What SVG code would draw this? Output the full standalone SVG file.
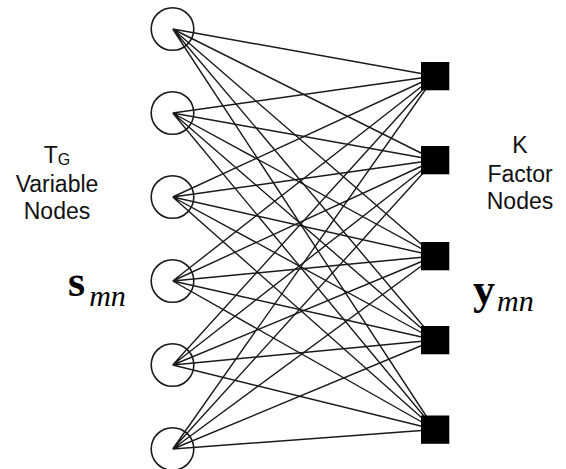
<svg xmlns="http://www.w3.org/2000/svg" width="566" height="469" viewBox="0 0 566 469">
<style>
.e{stroke:#1a1a1a;stroke-width:1.4;fill:none}
.v{stroke:#1a1a1a;stroke-width:1.6;fill:none}
.f{fill:#000}
.lab{font-family:"Liberation Sans",Arial,sans-serif;font-size:23px;fill:#111;text-anchor:middle}
.m{font-family:"Liberation Serif","Times New Roman",serif;fill:#000}
</style>
<rect width="566" height="469" fill="#fff"/>
<g id="connectors">
<path class="e" d="M172.7 29L435 76M172.7 29L435 160M172.7 29L435 256M172.7 29L435 340M172.7 29L435 429.5"/>
<path class="e" d="M172.7 113L435 76M172.7 113L435 160M172.7 113L435 256M172.7 113L435 340M172.7 113L435 429.5"/>
<path class="e" d="M172.7 197L435 76M172.7 197L435 160M172.7 197L435 256M172.7 197L435 340M172.7 197L435 429.5"/>
<path class="e" d="M172.7 281L435 76M172.7 281L435 160M172.7 281L435 256M172.7 281L435 340M172.7 281L435 429.5"/>
<path class="e" d="M172.7 365L435 76M172.7 365L435 160M172.7 365L435 256M172.7 365L435 340M172.7 365L435 429.5"/>
<path class="e" d="M172.7 449L435 76M172.7 449L435 160M172.7 449L435 256M172.7 449L435 340M172.7 449L435 429.5"/>
</g>
<g id="v1"><circle class="v" cx="172.5" cy="29" r="21.3"/></g>
<g id="v2"><circle class="v" cx="172.5" cy="113" r="21.3"/></g>
<g id="v3"><circle class="v" cx="172.5" cy="197" r="21.3"/></g>
<g id="v4"><circle class="v" cx="172.5" cy="281" r="21.3"/></g>
<g id="v5"><circle class="v" cx="172.5" cy="365" r="21.3"/></g>
<g id="v6"><circle class="v" cx="172.5" cy="449" r="21.3"/></g>
<g id="f1"><rect class="f" x="421" y="62" width="28.3" height="28.3"/></g>
<g id="f2"><rect class="f" x="421" y="146" width="28.3" height="28.3"/></g>
<g id="f3"><rect class="f" x="421" y="242" width="28.3" height="28.3"/></g>
<g id="f4"><rect class="f" x="421" y="326" width="28.3" height="28.3"/></g>
<g id="f5"><rect class="f" x="421" y="415.5" width="28.3" height="28.3"/></g>
<g id="left-label">
<text class="lab" x="57" y="163">T<tspan font-size="16" dy="2">G</tspan></text>
<text class="lab" x="57" y="191.5">Variable</text>
<text class="lab" x="57" y="219">Nodes</text>
</g>
<g id="right-label">
<text class="lab" x="520" y="153">K</text>
<text class="lab" x="520" y="181.5">Factor</text>
<text class="lab" x="520" y="209">Nodes</text>
</g>
<text class="m" x="68" y="296" font-size="44" font-weight="bold">s<tspan font-size="30" font-weight="normal" font-style="italic" dx="4" dy="10">mn</tspan></text>
<text class="m" x="473" y="304" font-size="44" font-weight="bold">y<tspan font-size="30" font-weight="normal" font-style="italic" dx="2" dy="7">mn</tspan></text>
</svg>
